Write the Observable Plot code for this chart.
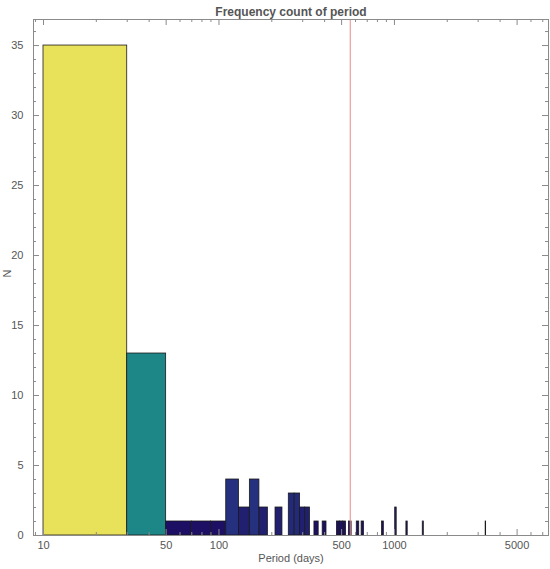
<!DOCTYPE html>
<html><head><meta charset="utf-8">
<script src="https://cdn.jsdelivr.net/npm/d3@7"></script>
<script src="https://cdn.jsdelivr.net/npm/@observablehq/plot@0.6"></script>
<style>body{margin:0;background:#fff;} #chart svg{display:block;}</style>
</head><body><div id="chart"></div>
<script>
// Histogram data: bins of 20 days, given by their lower edge
const binStarts = [10, 30, 50, 70, 90, 110, 130, 150, 170, 210, 250, 270, 290, 310, 350, 390, 470, 490, 510, 550, 610, 650, 850, 1010, 1170, 1450, 3310];
const counts    = [35, 13,  1,  1,  1,   4,   2,   4,   2,   2,   3,   3,   2,   2,   1,   1,   1,   1,   1,   1,   1,   1,   1,    2,    1,    1,    1];
const binWidth = 20;
const markerPeriod = 560;

const title = "Frequency count of period";
const xLabel = "Period (days)";
const yLabel = "N";

const xMajorTicks = [10, 50, 100, 500, 1000, 5000];
const xMinorTicks = [9, 20, 30, 40, 60, 70, 80, 90, 200, 300, 400, 600, 700, 800, 900, 2000, 3000, 4000, 6000, 7000];
const yMajorTicks = [0, 5, 10, 15, 20, 25, 30, 35];
const yMinorTicks = [1,2,3,4,6,7,8,9,11,12,13,14,16,17,18,19,21,22,23,24,26,27,28,29,31,32,33,34,36];

const countLevels = [1, 2, 3, 4, 13, 35];
const countColors = ["#1d0f64", "#201f70", "#232a7a", "#25307f", "#1d8788", "#e8e25a"];

const bins = binStarts.map((s, i) => ({x1: s, x2: s + binWidth, n: counts[i]}));

const W = 550, H = 569, mL = 33, mR = 2, mT = 19, mB = 34;
const fw = W - mL - mR, fh = H - mT - mB;
const grey = "#555555";
const frameCol = "#8a8a8a";

const chart = Plot.plot({
  width: W, height: H,
  marginLeft: mL, marginRight: mR, marginTop: mT, marginBottom: mB,
  style: {fontFamily: "Liberation Sans, Arial, sans-serif", fontSize: "11px", color: grey, background: "#fff"},
  x: {type: "log", domain: [8.77, 7550], axis: null},
  y: {domain: [0, 36.86], axis: null},
  color: {type: "ordinal", domain: countLevels, range: countColors},
  marks: [
    Plot.rectY(bins, {x1: "x1", x2: "x2", y1: 0, y2: "n", fill: "n", stroke: "#1a1a1a", strokeWidth: 0.8}),
    Plot.ruleX([markerPeriod], {stroke: "#e98a8a", strokeWidth: 1}),
    Plot.frame({stroke: frameCol}),
    // inward ticks, bottom & top
    Plot.tickX(xMajorTicks, {x: d => d, insetTop: fh - 6, stroke: frameCol}),
    Plot.tickX(xMinorTicks, {x: d => d, insetTop: fh - 3, stroke: frameCol}),
    Plot.tickX(xMajorTicks, {x: d => d, insetBottom: fh - 6, stroke: frameCol}),
    Plot.tickX(xMinorTicks, {x: d => d, insetBottom: fh - 3, stroke: frameCol}),
    // inward ticks, left & right
    Plot.tickY(yMajorTicks, {y: d => d, insetRight: fw - 6, stroke: frameCol}),
    Plot.tickY(yMinorTicks, {y: d => d, insetRight: fw - 3, stroke: frameCol}),
    Plot.tickY(yMajorTicks, {y: d => d, insetLeft: fw - 6, stroke: frameCol}),
    Plot.tickY(yMinorTicks, {y: d => d, insetLeft: fw - 3, stroke: frameCol}),
    // tick labels
    Plot.text(xMajorTicks, {x: d => d, text: d => String(d), frameAnchor: "bottom", lineAnchor: "top", dy: 6, fill: grey, fontSize: 11}),
    Plot.text(yMajorTicks, {y: d => d, text: d => String(d), frameAnchor: "left", textAnchor: "end", dx: -10, fill: grey, fontSize: 11}),
    Plot.text([xLabel], {text: d => d, frameAnchor: "bottom", dy: 26, fill: grey, fontSize: 11}),
    Plot.text([yLabel], {text: d => d, frameAnchor: "left", dx: -26, rotate: -90, fill: grey, fontSize: 11}),
    Plot.text([title], {text: d => d, frameAnchor: "top", dy: -12, fill: grey, fontSize: 12, fontWeight: "bold"})
  ]
});
document.getElementById("chart").appendChild(chart);
</script>
</body></html>
